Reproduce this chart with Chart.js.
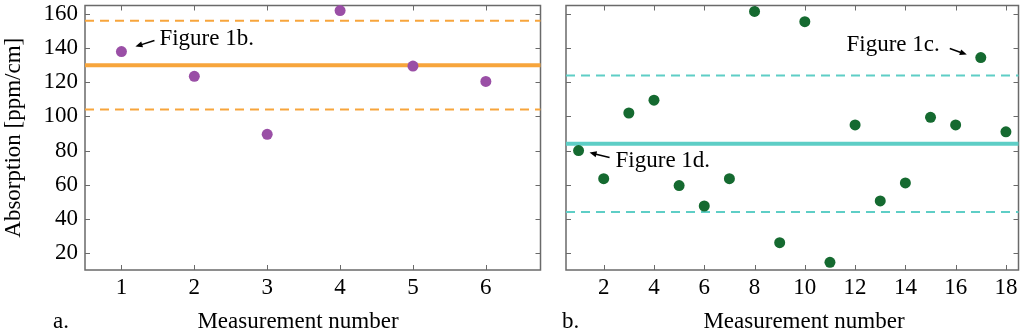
<!DOCTYPE html>
<html>
<head>
<meta charset="utf-8">
<script src="https://cdn.jsdelivr.net/npm/chart.js@4/dist/chart.umd.min.js"></script>
<style>
  html, body { margin: 0; padding: 0; background: #fff; }
  #wrap { position: relative; width: 1024px; height: 331px; }
  .panel { position: absolute; top: 0; height: 331px; }
  #pa { left: 0; width: 546px; }
  #pb { left: 546px; width: 478px; }
</style>
</head>
<body>
<div id="wrap">
  <div class="panel" id="pa"><canvas id="chartA"></canvas></div>
  <div class="panel" id="pb"><canvas id="chartB"></canvas></div>
</div>
<script>
// panel a
var measA = [1, 2, 3, 4, 5, 6];
var absA = [138, 123.5, 89.5, 162, 129.5, 120.5];
var meanA = 130;
var bandA = 26;
var xTicksA = [1, 2, 3, 4, 5, 6];

// panel b
var measB = [1, 2, 3, 4, 5, 6, 7, 8, 9, 10, 11, 12, 13, 14, 15, 16, 17, 18];
var absB = [80, 63.5, 102, 109.5, 59.5, 47.5, 63.5, 161.5, 26, 155.5, 14.5, 95, 50.5, 61, 99.5, 95, 134.5, 91];
var meanB = 84;
var bandB = 40;
var xTicksB = [2, 4, 6, 8, 10, 12, 14, 16, 18];

var yTicks = [20, 40, 60, 80, 100, 120, 140, 160];
var yMin = 10, yMax = 165;

var serif = "'Liberation Serif', 'DejaVu Serif', serif";
var frameColor = '#6a6a6a';

function pts(xs, ys) {
  return xs.map(function (x, i) { return { x: x, y: ys[i] }; });
}
function hline(x0, x1, y) {
  return [{ x: x0, y: y }, { x: x1, y: y }];
}

function arrow(ctx, x1, y1, x2, y2) {
  var a = Math.atan2(y2 - y1, x2 - x1);
  var hl = 7, hw = 3;
  ctx.beginPath();
  ctx.moveTo(x1, y1);
  ctx.lineTo(x2 - Math.cos(a) * hl * 0.8, y2 - Math.sin(a) * hl * 0.8);
  ctx.stroke();
  ctx.beginPath();
  ctx.moveTo(x2, y2);
  ctx.lineTo(x2 - Math.cos(a) * hl - Math.sin(a) * hw, y2 - Math.sin(a) * hl + Math.cos(a) * hw);
  ctx.lineTo(x2 - Math.cos(a) * hl + Math.sin(a) * hw, y2 - Math.sin(a) * hl - Math.cos(a) * hw);
  ctx.closePath();
  ctx.fill();
}

// frame, inward ticks, notes, bottom captions
var decor = {
  id: 'decor',
  beforeDatasetsDraw: function (chart, args, o) {
    var ctx = chart.ctx, a = chart.chartArea;
    var xs = chart.scales.x, ys = chart.scales.y;
    ctx.save();
    ctx.strokeStyle = frameColor;
    ctx.lineWidth = 1.5;
    ctx.strokeRect(a.left, a.top, a.right - a.left, a.bottom - a.top);
    ctx.lineWidth = 1;
    ctx.beginPath();
    o.xTicks.forEach(function (v) {
      var px = Math.round(xs.getPixelForValue(v)) + 0.5;
      ctx.moveTo(px, a.bottom); ctx.lineTo(px, a.bottom - 5);
      ctx.moveTo(px, a.top); ctx.lineTo(px, a.top + 5);
    });
    yTicks.forEach(function (v) {
      var py = Math.round(ys.getPixelForValue(v)) + 0.5;
      ctx.moveTo(a.left, py); ctx.lineTo(a.left + 5, py);
      ctx.moveTo(a.right, py); ctx.lineTo(a.right - 5, py);
    });
    ctx.stroke();
    ctx.restore();
  },
  afterDraw: function (chart, args, o) {
    var ctx = chart.ctx;
    var xs = chart.scales.x, ys = chart.scales.y;
    ctx.save();
    ctx.fillStyle = '#000';
    ctx.strokeStyle = '#000';
    ctx.lineWidth = 1.5;
    o.notes.forEach(function (n) {
      var px = xs.getPixelForValue(n.x), py = ys.getPixelForValue(n.y);
      ctx.font = '23px ' + serif;
      ctx.textAlign = n.align;
      ctx.textBaseline = 'alphabetic';
      ctx.fillText(n.text, px + n.tx, py + n.ty);
      arrow(ctx, px + n.ax1, py + n.ay1, px + n.ax2, py + n.ay2);
    });
    ctx.font = '23px ' + serif;
    ctx.textBaseline = 'alphabetic';
    ctx.textAlign = 'left';
    ctx.fillText(o.letter, o.letterX, 328);
    ctx.textAlign = 'center';
    ctx.fillText('Measurement number', o.titleX, 328);
    ctx.restore();
  }
};

function makeChart(id, cfg) {
  return new Chart(document.getElementById(id), {
    type: 'scatter',
    data: {
      datasets: [
        {
          data: pts(cfg.meas, cfg.abs),
          backgroundColor: cfg.dot,
          borderWidth: 0,
          pointRadius: 5.5,
          order: 0
        },
        {
          data: hline(cfg.xMin, cfg.xMax, cfg.mean),
          showLine: true, borderColor: cfg.line, borderWidth: 4,
          pointRadius: 0, order: 1
        },
        {
          data: hline(cfg.xMin, cfg.xMax, cfg.mean + cfg.band),
          showLine: true, borderColor: cfg.line, borderWidth: 2, borderDash: [9, 6],
          pointRadius: 0, order: 2
        },
        {
          data: hline(cfg.xMin, cfg.xMax, cfg.mean - cfg.band),
          showLine: true, borderColor: cfg.line, borderWidth: 2, borderDash: [9, 6],
          pointRadius: 0, order: 2
        }
      ]
    },
    options: {
      responsive: true,
      maintainAspectRatio: false,
      animation: false,
      clip: false,
      layout: { padding: { top: 4, right: 4, left: 0, bottom: 0 } },
      plugins: {
        legend: { display: false },
        tooltip: { enabled: false },
        decor: { xTicks: cfg.xTicks, notes: cfg.notes, letter: cfg.letter, letterX: cfg.letterX, titleX: cfg.titleX }
      },
      scales: {
        x: {
          type: 'linear',
          min: cfg.xMin, max: cfg.xMax,
          afterBuildTicks: function (s) { s.ticks = cfg.xTicks.map(function (v) { return { value: v }; }); },
          afterFit: function (s) { s.height = 61; s.paddingLeft = 0; s.paddingRight = 0; },
          grid: { display: false, drawTicks: false },
          border: { display: false },
          ticks: { color: '#000', font: { family: serif, size: 23 }, padding: 4, maxRotation: 0, autoSkip: false }
        },
        y: {
          type: 'linear',
          min: yMin, max: yMax,
          afterBuildTicks: function (s) { s.ticks = yTicks.map(function (v) { return { value: v }; }); },
          afterFit: function (s) { s.width = cfg.yWidth; s.paddingTop = 0; s.paddingBottom = 0; },
          grid: { display: false, drawTicks: false },
          border: { display: false },
          ticks: { display: cfg.yLabels, color: '#000', font: { family: serif, size: 23 }, padding: 7, autoSkip: false },
          title: {
            display: cfg.yLabels,
            text: 'Absorption [ppm/cm]',
            color: '#000',
            font: { family: serif, size: 23 },
            padding: 0
          }
        }
      }
    },
    plugins: [decor]
  });
}

makeChart('chartA', {
  meas: measA, abs: absA, mean: meanA, band: bandA,
  xMin: 0.5, xMax: 6.75, xTicks: xTicksA,
  dot: '#9a4fa6', line: '#f7a53c',
  yWidth: 85, yLabels: true,
  letter: 'a.', letterX: 53, titleX: 298,
  notes: [
    { text: 'Figure 1b.', x: 1, y: 138, align: 'left', tx: 38, ty: -7, ax1: 33, ay1: -11, ax2: 14, ay2: -5 }
  ]
});

makeChart('chartB', {
  meas: measB, abs: absB, mean: meanB, band: bandB,
  xMin: 0.5, xMax: 18.5, xTicks: xTicksB,
  dot: '#156a30', line: '#5ecec6',
  yWidth: 20, yLabels: false,
  letter: 'b.', letterX: 16, titleX: 258,
  notes: [
    { text: 'Figure 1c.', x: 17, y: 134.5, align: 'right', tx: -41, ty: -7, ax1: -31, ay1: -9, ax2: -14, ay2: -3 },
    { text: 'Figure 1d.', x: 1, y: 80, align: 'left', tx: 37, ty: 16, ax1: 31, ay1: 7, ax2: 11, ay2: 2 }
  ]
});
</script>
</body>
</html>
